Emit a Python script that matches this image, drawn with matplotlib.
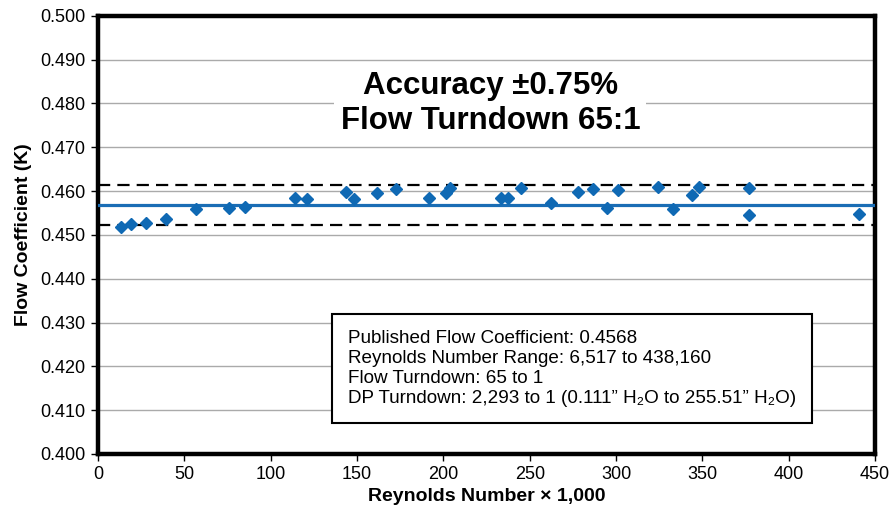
import numpy as np
import matplotlib
matplotlib.use("Agg")
import matplotlib.pyplot as plt

plt.rcParams['font.family'] = ['Liberation Sans', 'DejaVu Sans']

# Reynolds number x 1,000 and measured flow coefficient
reynolds = [13.4, 19.2, 27.9, 39.5, 56.6, 76.0, 85.1, 113.8, 121.1, 143.6,
            148.3, 161.6, 172.3, 191.7, 201.7, 204.1, 233.1, 237.2, 245.0,
            262.4, 277.7, 286.8, 294.6, 301.0, 324.4, 333.0, 344.2, 348.3,
            376.7, 376.9, 440.7]
k_values = [0.4518, 0.4524, 0.4527, 0.4537, 0.4559, 0.4561, 0.4564, 0.4585,
            0.4582, 0.4598, 0.4582, 0.4596, 0.4604, 0.4585, 0.4595, 0.4608,
            0.4585, 0.4585, 0.4607, 0.4573, 0.4598, 0.4605, 0.4561, 0.4603,
            0.4609, 0.4560, 0.4590, 0.4610, 0.4608, 0.4546, 0.4547]

k_published = 0.4568
k_upper = 0.4613
k_lower = 0.4522

x_ticks = list(range(0, 451, 50))
y_ticks = [0.400 + 0.01 * i for i in range(11)]

title_text = "Accuracy \u00b10.75%\nFlow Turndown 65:1"
info_text = ("Published Flow Coefficient: 0.4568\n"
             "Reynolds Number Range: 6,517 to 438,160\n"
             "Flow Turndown: 65 to 1\n"
             "DP Turndown: 2,293 to 1 (0.111\u201d H\u2082O to 255.51\u201d H\u2082O)")

fig = plt.figure(figsize=(8.93, 5.08), dpi=100)
ax = fig.add_axes([0.1097, 0.1063, 0.8703, 0.8628])

ax.set_xlim(0, 450)
ax.set_ylim(0.400, 0.500)

ax.grid(axis='y', color='#aaaaaa', lw=1.0)
ax.set_axisbelow(True)

ax.axhline(k_published, color='#1a6db5', lw=2.3, zorder=3)
ax.axhline(k_upper, color='black', lw=1.6, ls=(0, (5.5, 3.2)), zorder=3)
ax.axhline(k_lower, color='black', lw=1.6, ls=(0, (5.5, 3.2)), zorder=3)

ax.plot(reynolds, k_values, ls='none', marker='D', ms=6.5,
        color='#0f69b4', mec='#0f69b4', zorder=4)

ax.set_xticks(x_ticks)
ax.set_yticks(y_ticks)
ax.set_yticklabels([f"{v:.3f}" for v in y_ticks])
ax.tick_params(direction='out', length=5, width=1, pad=4, labelsize=13)

for s in ax.spines.values():
    s.set_linewidth(3.2)
    s.set_color('black')

ax.set_xlabel("Reynolds Number \u00d7 1,000", fontsize=14, fontweight='bold', labelpad=3)
ax.set_ylabel("Flow Coefficient (K)", fontsize=14, fontweight='bold', labelpad=6)

ax.text(0.505, 0.800, title_text, transform=ax.transAxes, ha='center', va='center',
        fontsize=22.5, fontweight='bold', linespacing=1.2,
        bbox=dict(boxstyle='square,pad=0.2', fc='white', ec='none'), zorder=5)

ax.text(0.322, 0.195, info_text, transform=ax.transAxes, ha='left', va='center',
        fontsize=13.6, linespacing=1.22,
        bbox=dict(boxstyle='square,pad=0.85', fc='white', ec='black', lw=1.5), zorder=5)

fig.savefig("out.png", dpi=100)
